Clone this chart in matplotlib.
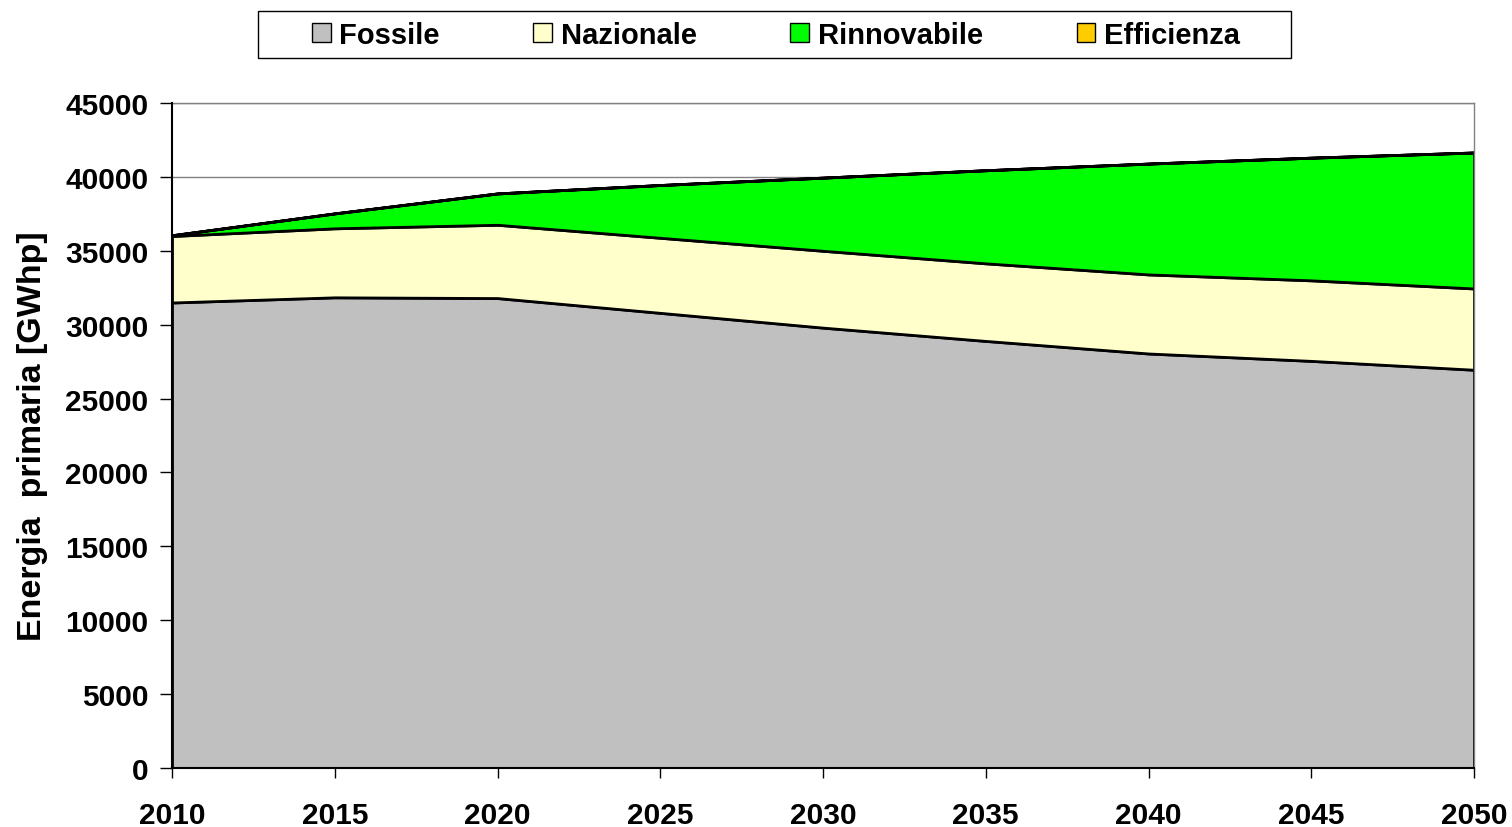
import numpy as np
import matplotlib
matplotlib.use('Agg')
import matplotlib.pyplot as plt
import matplotlib.patches as mpatches

plt.rcParams['font.family'] = ['Liberation Sans', 'DejaVu Sans']

years = [2010, 2015, 2020, 2025, 2030, 2035, 2040, 2045, 2050]
fossile = [31500, 31850, 31800, 30800, 29800, 28900, 28050, 27550, 26950]
nazionale = [4500, 4670, 4960, 5080, 5200, 5250, 5350, 5450, 5500]
rinnovabile = [50, 1010, 2120, 3570, 4950, 6300, 7500, 8300, 9200]
efficienza = [0, 0, 0, 0, 0, 0, 0, 0, 0]

labels = ['Fossile', 'Nazionale', 'Rinnovabile', 'Efficienza']
colors = ['#C0C0C0', '#FFFFCC', '#00FF00', '#FFCC00']

W, H = 1512, 828
fig = plt.figure(figsize=(W / 100, H / 100), dpi=100)
ax = fig.add_axes([172 / W, 1 - 769 / H, (1474 - 172) / W, (769 - 104) / H])

ax.stackplot(years, fossile, nazionale, rinnovabile, efficienza,
             colors=colors, edgecolor='black', linewidth=2, zorder=2)

ax.set_xlim(2010, 2050)
ax.set_ylim(0, 45000)
ax.set_xticks(years)
ax.set_yticks(np.arange(0, 45001, 5000))
ax.yaxis.grid(True, color='#808080', linewidth=1, zorder=0)
ax.set_axisbelow(True)

for side in ['left', 'bottom']:
    ax.spines[side].set_linewidth(1.5)
    ax.spines[side].set_zorder(3)
for side in ['top', 'right']:
    ax.spines[side].set_color('#808080')
    ax.spines[side].set_linewidth(1)

ax.tick_params(axis='y', direction='out', length=9, width=1, pad=8, labelsize=21.5)
ax.tick_params(axis='x', direction='out', length=7, width=1, pad=17, labelsize=21.5)
for lab in ax.get_xticklabels() + ax.get_yticklabels():
    lab.set_fontweight('bold')

ax.set_ylabel('Energia  primaria [GWhp]', fontsize=24.5, fontweight='bold', labelpad=12)

# legend box drawn separately so the entries can sit inside with wide spacing
box = mpatches.Rectangle((258 / W, 1 - 59 / H), (1291 - 258) / W, 47 / H,
                         transform=fig.transFigure, facecolor='white',
                         edgecolor='black', linewidth=1)
fig.add_artist(box)

handles = [mpatches.Patch(facecolor=c, edgecolor='black', linewidth=1, label=l)
           for c, l in zip(colors, labels)]
leg = fig.legend(handles=handles, loc='center', ncol=4,
                 bbox_to_anchor=(776 / W, 1 - 36 / H),
                 prop={'weight': 'bold', 'size': 21}, frameon=False,
                 handlelength=0.65, handleheight=0.65, handletextpad=0.3,
                 columnspacing=3.2, borderpad=0, borderaxespad=0)

fig.savefig('out.png', dpi=100)
